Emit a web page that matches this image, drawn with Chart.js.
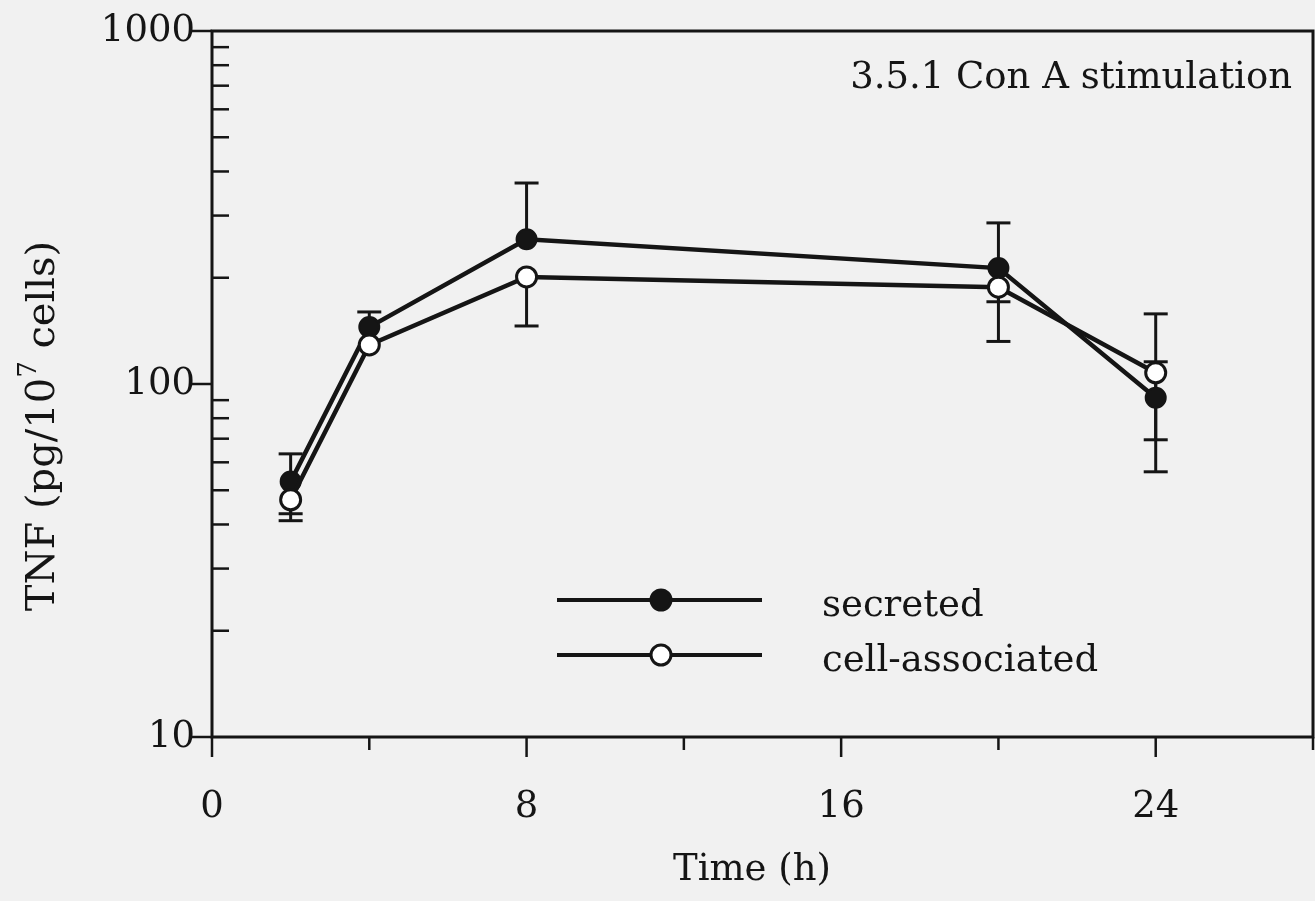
<!DOCTYPE html>
<html>
<head>
<meta charset="utf-8">
<script src="https://cdn.jsdelivr.net/npm/chart.js@4/dist/chart.umd.min.js"></script>
<style>
html,body{margin:0;padding:0;background:#f1f1f1;}
#wrap{width:1315px;height:901px;}
</style>
</head>
<body>
<div id="wrap"><canvas id="c" width="1315" height="901"></canvas></div>
<script>
// ---- data ----
const times = [2, 4, 8, 20, 24];
const secreted = [52.9, 145, 257, 213, 91.4];
const secretedHi = [63.4, 160, 371, 286, 115.6];
const secretedLo = [41.0, null, null, 171, 56.4];
const cellAssoc = [47.0, 129, 201, 188, 107.6];
const cellAssocHi = [null, null, null, null, 158];
const cellAssocLo = [42.9, null, 146, 132, 69.5];
const yTicks = [10, 100, 1000];
const xLabeled = [0, 8, 16, 24];
const seriesNames = ['secreted', 'cell-associated'];
const chartTitle = '3.5.1 Con A stimulation';
const xTitle = 'Time (h)';

const FONT = "'DejaVu Serif', serif";
const FS = 37;
const INK = '#151515';
const BG = '#f1f1f1';

const frameAndTicks = {
  id: 'frameAndTicks',
  beforeDraw(chart) {
    const ctx = chart.ctx;
    ctx.save();
    ctx.fillStyle = BG;
    ctx.fillRect(0, 0, chart.width, chart.height);
    ctx.restore();
  },
  afterDraw(chart) {
    const ctx = chart.ctx, a = chart.chartArea;
    const xs = chart.scales.x, ys = chart.scales.y;
    ctx.save();
    ctx.strokeStyle = INK;
    ctx.lineWidth = 3;
    ctx.strokeRect(a.left, a.top, a.right - a.left, a.bottom - a.top);
    // y ticks
    ctx.lineWidth = 2.5;
    for (let d = 10; d < 1000; d *= 10) {
      for (let k = 2; k <= 9; k++) {
        const y = ys.getPixelForValue(d * k);
        ctx.beginPath(); ctx.moveTo(a.left, y); ctx.lineTo(a.left + 17, y); ctx.stroke();
      }
    }
    yTicks.forEach(v => {
      const y = ys.getPixelForValue(v);
      ctx.beginPath(); ctx.moveTo(a.left - 20, y); ctx.lineTo(a.left, y); ctx.stroke();
    });
    // x ticks
    for (let t = 0; t <= 28; t += 4) {
      const x = xs.getPixelForValue(t);
      const len = (t % 8 === 0) ? 20 : 13;
      ctx.beginPath(); ctx.moveTo(x, a.bottom); ctx.lineTo(x, a.bottom + len); ctx.stroke();
    }
    // titles
    ctx.fillStyle = INK;
    ctx.font = FS + 'px ' + FONT;
    ctx.textAlign = 'right'; ctx.textBaseline = 'middle';
    ctx.fillText(chartTitle, 1292, 78);
    ctx.textAlign = 'center';
    ctx.fillText(xTitle, 752, 870);
    // y title rotated with superscript
    const YF = 40;
    ctx.translate(44, 426);
    ctx.rotate(-Math.PI / 2);
    const p1 = 'TNF (pg/10', p2 = '7', p3 = ' cells)';
    ctx.font = YF + 'px ' + FONT;
    const w1 = ctx.measureText(p1).width, w3 = ctx.measureText(p3).width;
    ctx.font = '26px ' + FONT;
    const w2 = ctx.measureText(p2).width;
    let x0 = -(w1 + w2 + w3) / 2;
    ctx.textAlign = 'left';
    ctx.font = YF + 'px ' + FONT; ctx.fillText(p1, x0, 0);
    ctx.font = '26px ' + FONT; ctx.fillText(p2, x0 + w1, -15);
    ctx.font = YF + 'px ' + FONT; ctx.fillText(p3, x0 + w1 + w2, 0);
    ctx.restore();
    // legend
    ctx.save();
    const rows = [{y: 600, filled: true}, {y: 655, filled: false}];
    rows.forEach((r, i) => {
      ctx.strokeStyle = INK; ctx.lineWidth = 4;
      ctx.beginPath(); ctx.moveTo(557, r.y); ctx.lineTo(762, r.y); ctx.stroke();
      ctx.beginPath(); ctx.arc(661, r.y, 10, 0, Math.PI * 2);
      ctx.fillStyle = r.filled ? INK : '#ffffff';
      ctx.fill();
      ctx.lineWidth = 3; ctx.stroke();
      ctx.fillStyle = INK; ctx.font = FS + 'px ' + FONT;
      ctx.textAlign = 'left'; ctx.textBaseline = 'middle';
      ctx.fillText(seriesNames[i], 822, r.y + 6);
    });
    ctx.restore();
  }
};

const errorBars = {
  id: 'errorBars',
  beforeDatasetsDraw(chart) {
    const ctx = chart.ctx, xs = chart.scales.x, ys = chart.scales.y;
    const sets = [[secreted, secretedLo, secretedHi], [cellAssoc, cellAssocLo, cellAssocHi]];
    ctx.save();
    ctx.strokeStyle = INK; ctx.lineWidth = 3;
    sets.forEach(([v, lo, hi]) => {
      times.forEach((t, i) => {
        const x = xs.getPixelForValue(t);
        const yv = ys.getPixelForValue(v[i]);
        const yl = lo[i] != null ? ys.getPixelForValue(lo[i]) : yv;
        const yh = hi[i] != null ? ys.getPixelForValue(hi[i]) : yv;
        ctx.beginPath(); ctx.moveTo(x, yl); ctx.lineTo(x, yh); ctx.stroke();
        if (lo[i] != null) { ctx.beginPath(); ctx.moveTo(x - 12, yl); ctx.lineTo(x + 12, yl); ctx.stroke(); }
        if (hi[i] != null) { ctx.beginPath(); ctx.moveTo(x - 12, yh); ctx.lineTo(x + 12, yh); ctx.stroke(); }
      });
    });
    ctx.restore();
  }
};

new Chart(document.getElementById('c'), {
  type: 'line',
  data: {
    datasets: [
      {
        label: seriesNames[0],
        data: times.map((t, i) => ({x: t, y: secreted[i]})),
        borderColor: INK, borderWidth: 4.5,
        pointRadius: 10, pointBackgroundColor: INK, pointBorderColor: INK, pointBorderWidth: 2,
        tension: 0, order: 2
      },
      {
        label: seriesNames[1],
        data: times.map((t, i) => ({x: t, y: cellAssoc[i]})),
        borderColor: INK, borderWidth: 4.5,
        pointRadius: 10, pointBackgroundColor: '#ffffff', pointBorderColor: INK, pointBorderWidth: 3,
        tension: 0, order: 1
      }
    ]
  },
  options: {
    responsive: false,
    animation: false,
    devicePixelRatio: 1,
    layout: {padding: {top: 31, right: 2, left: 0, bottom: 0}, autoPadding: false},
    plugins: {legend: {display: false}, tooltip: {enabled: false}},
    scales: {
      x: {
        type: 'linear', min: 0, max: 28,
        grid: {display: false, drawTicks: false},
        border: {display: false},
        afterFit(s) { s.height = 164; s.paddingLeft = 0; s.paddingRight = 0; },
        ticks: {
          stepSize: 4, autoSkip: false, maxRotation: 0, padding: 48,
          color: INK, font: {family: FONT, size: FS},
          callback: v => xLabeled.includes(v) ? String(v) : ''
        }
      },
      y: {
        type: 'logarithmic', min: 10, max: 1000,
        grid: {display: false, drawTicks: false},
        border: {display: false},
        afterFit(s) { s.width = 212; s.paddingTop = 0; s.paddingBottom = 0; },
        afterBuildTicks(s) { s.ticks = yTicks.map(v => ({value: v})); },
        ticks: {
          padding: 17, color: INK, font: {family: FONT, size: FS},
          callback: v => String(v)
        }
      }
    }
  },
  plugins: [frameAndTicks, errorBars]
});
</script>
</body>
</html>
